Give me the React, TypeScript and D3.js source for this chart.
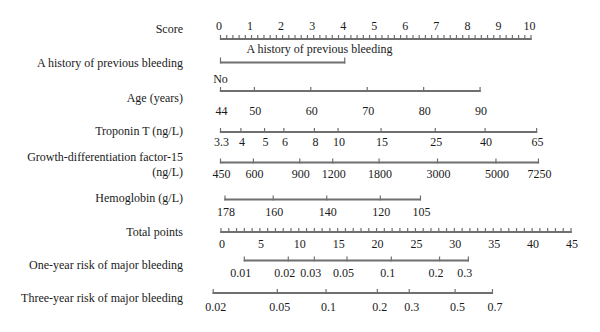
import React from "react";
import * as d3 from "d3";

// ---- data ----
const rowLabels = [
  "Score",
  "A history of previous bleeding",
  "Age (years)",
  "Troponin T (ng/L)",
  "Growth-differentiation factor-15",
  "Hemoglobin (g/L)",
  "Total points",
  "One-year risk of major bleeding",
  "Three-year risk of major bleeding",
];
const scoreTicks = d3.range(0, 10.0001, 0.2);
const scoreLabels = [0, 1, 2, 3, 4, 5, 6, 7, 8, 9, 10];
const historyCats = ["No", "A history of previous bleeding"];
const historyPoints = [0, 4];
const ageTicks = [44, 50, 60, 70, 80, 90];
const agePointsRange = [0, 8.36];
const tropTicks = [3.3, 4, 5, 6, 8, 10, 15, 25, 40, 65];
const tropPointsRange = [0, 10.18];
const gdfTicks = [450, 600, 900, 1200, 1800, 3000, 5000, 7250];
const gdfPointsRange = [0, 10.24];
const hbTicks = [178, 160, 140, 120, 105];
const hbPointsRange = [0.145, 6.44];
const totalTicks = d3.range(0, 46, 1);
const totalLabels = [0, 5, 10, 15, 20, 25, 30, 35, 40, 45];
const oneYearRisk = ["0.01", "0.02", "0.03", "0.05", "0.1", "0.2", "0.3"];
const oneYearTotal = [3.0, 8.65, 12.0, 16.2, 21.9, 28.1, 31.8];
const threeYearRisk = ["0.02", "0.05", "0.1", "0.2", "0.3", "0.5", "0.7"];
const threeYearTotal = [-1.0, 7.24, 13.5, 20.1, 24.2, 30.1, 34.9];

const FONT = "'Liberation Serif', 'DejaVu Serif', serif";
const LINE = "#6f6f6f";
const TEXT = "#1a1a1a";

const xScore = d3.scaleLinear().domain([0, 10]).range([220.5, 531]);
const xTotal = d3.scaleLinear().domain([0, 45]).range([221, 571]);
const ageScale = d3.scaleLinear().domain([44, 90]).range(agePointsRange);
const tropScale = d3.scaleLog().domain([3.3, 65]).range(tropPointsRange);
const gdfScale = d3.scaleLog().domain([450, 7250]).range(gdfPointsRange);
const hbScale = d3.scaleLinear().domain([178, 105]).range(hbPointsRange);

type AxisProps = {
  y: number;
  ticks: number[];
  labels: { x: number; text: string }[];
  labelY: number;
  tickLen?: number;
};

function Axis({ y, ticks, labels, labelY, tickLen = 4 }: AxisProps) {
  const x0 = d3.min(ticks)!;
  const x1 = d3.max(ticks)!;
  return (
    <g>
      <line x1={x0 - 0.6} x2={x1 + 0.6} y1={y} y2={y} stroke={LINE} strokeWidth={1.8} />
      {ticks.map((t, i) => (
        <line key={i} x1={t} x2={t} y1={y + 0.9} y2={y - tickLen} stroke={LINE} strokeWidth={1.2} />
      ))}
      {labels.map((l, i) => (
        <text key={i} x={l.x} y={labelY} textAnchor="middle" fontSize={12} fill={TEXT} fontFamily={FONT}>
          {l.text}
        </text>
      ))}
    </g>
  );
}

export default function App() {
  const leftX = 183;
  const leftY = [33, 67, 101.5, 134.5, 161, 202, 235.5, 269, 302];
  const ptX = (p: number) => xScore(p);
  return (
    <svg
      width={600}
      height={332}
      style={{ position: "absolute", left: 0, top: 0, background: "#fff" }}
      fontFamily={FONT}
    >
      <rect width={600} height={332} fill="#fff" />
      {rowLabels.map((l, i) => (
        <text key={i} x={leftX} y={leftY[i]} textAnchor="end" fontSize={12} fill={TEXT} fontFamily={FONT}>
          {l}
        </text>
      ))}
      <text x={leftX} y={176} textAnchor="end" fontSize={12} fill={TEXT} fontFamily={FONT}>
        (ng/L)
      </text>

      {/* Score */}
      <Axis
        y={39}
        ticks={scoreTicks.map((t) => xScore(t))}
        labels={scoreLabels.map((t) => ({ x: xScore(t) - 1.5, text: String(t) }))}
        labelY={30}
      />

      {/* History */}
      <Axis y={62.5} ticks={historyPoints.map(ptX)} labels={[]} labelY={0} tickLen={5} />
      <text x={ptX(historyPoints[0])} y={82.5} textAnchor="middle" fontSize={12} fill={TEXT} fontFamily={FONT}>
        {historyCats[0]}
      </text>
      <text x={ptX(historyPoints[0]) + 26} y={53} textAnchor="start" fontSize={12} fill={TEXT} fontFamily={FONT}>
        {historyCats[1]}
      </text>

      {/* Age */}
      <Axis
        y={91}
        ticks={ageTicks.map((v) => ptX(ageScale(v)))}
        labels={ageTicks.map((v) => ({ x: ptX(ageScale(v)) + 1, text: String(v) }))}
        labelY={114.5}
      />

      {/* Troponin */}
      <Axis
        y={132}
        ticks={tropTicks.map((v) => ptX(tropScale(v)))}
        labels={tropTicks.map((v) => ({ x: ptX(tropScale(v)) + 1, text: String(v) }))}
        labelY={146}
      />

      {/* GDF-15 */}
      <Axis
        y={162.5}
        ticks={gdfTicks.map((v) => ptX(gdfScale(v)))}
        labels={gdfTicks.map((v) => ({ x: ptX(gdfScale(v)) + 1, text: String(v) }))}
        labelY={178}
      />

      {/* Hemoglobin */}
      <Axis
        y={199.5}
        ticks={hbTicks.map((v) => ptX(hbScale(v)))}
        labels={hbTicks.map((v) => ({ x: ptX(hbScale(v)) + 1, text: String(v) }))}
        labelY={216}
      />

      {/* Total points */}
      <Axis
        y={232}
        ticks={totalTicks.map((t) => xTotal(t))}
        labels={totalLabels.map((t) => ({ x: xTotal(t) + 1, text: String(t) }))}
        labelY={248}
      />

      {/* One-year */}
      <Axis
        y={260.5}
        ticks={oneYearTotal.map((t) => xTotal(t))}
        labels={oneYearTotal.map((t, i) => ({ x: xTotal(t) - 3.5, text: oneYearRisk[i] }))}
        labelY={277}
      />

      {/* Three-year */}
      <Axis
        y={293}
        ticks={threeYearTotal.map((t) => xTotal(t))}
        labels={threeYearTotal.map((t, i) => ({ x: xTotal(t) + 2.5, text: threeYearRisk[i] }))}
        labelY={310.5}
      />
    </svg>
  );
}
